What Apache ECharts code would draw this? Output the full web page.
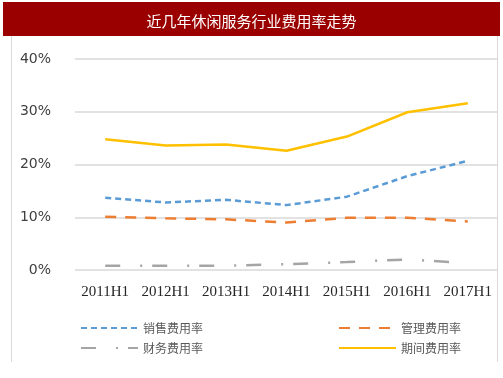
<!DOCTYPE html>
<html>
<head>
<meta charset="utf-8">
<script src="https://cdn.jsdelivr.net/npm/echarts@6/dist/echarts.min.js"></script>
<style>
  html, body { margin: 0; padding: 0; background: #fff; }
  #main { width: 503px; height: 378px; }
</style>
</head>
<body>
<div id="main"></div>
<script>
  // 数据
  const categories = ['2011H1', '2012H1', '2013H1', '2014H1', '2015H1', '2016H1', '2017H1']
  const salesRate = [13.7, 12.8, 13.3, 12.3, 13.9, 17.8, 20.7]
  const adminRate = [10.1, 9.8, 9.6, 9.0, 9.9, 9.9, 9.2]
  const financeRate = [0.8, 0.8, 0.8, 1.1, 1.5, 2.0, 1.3]
  const periodRate = [24.8, 23.6, 23.8, 22.6, 25.3, 29.9, 31.6]

  const legendFont = {fontSize: 12, color: '#595959', fontFamily: 'Noto Sans CJK SC'}

  const option = {
    animation: false,
    title: {
      text: '近几年休闲服务行业费用率走势',
      left: 'center',
      top: 9,
      textStyle: {color: '#fff', fontSize: 15, fontWeight: 'normal', fontFamily: 'Noto Sans CJK SC'}
    },
    graphic: [
      {type: 'rect', z: -1, shape: {x: 3, y: 2, width: 497, height: 34}, style: {fill: '#9b0000'}},
      {type: 'line', shape: {x1: 11.5, y1: 36, x2: 11.5, y2: 362}, style: {stroke: '#d9d9d9', lineWidth: 1}},
      {type: 'line', shape: {x1: 497.5, y1: 36, x2: 497.5, y2: 362}, style: {stroke: '#d9d9d9', lineWidth: 1}}
    ],
    legend: [
      {
        left: 75, top: 317, orient: 'vertical', itemGap: 8,
        itemWidth: 57, itemHeight: 14,
        itemStyle: {opacity: 0},
        textStyle: legendFont,
        data: ['销售费用率', '财务费用率']
      },
      {
        left: 333, top: 317, orient: 'vertical', itemGap: 8,
        itemWidth: 57, itemHeight: 14,
        itemStyle: {opacity: 0},
        textStyle: legendFont,
        data: ['管理费用率', '期间费用率']
      }
    ],
    grid: {left: 75, right: 5, top: 59, bottom: 108, containLabel: false},
    xAxis: {
      type: 'category',
      data: categories,
      boundaryGap: true,
      axisLine: {show: false},
      axisTick: {show: false},
      axisLabel: {
        margin: 15, fontSize: 15, color: '#262626',
        fontFamily: 'Liberation Serif', interval: 0
      }
    },
    yAxis: {
      type: 'value',
      min: 0, max: 40, interval: 10,
      axisLine: {show: false},
      axisTick: {show: false},
      axisLabel: {
        formatter: '{value}%', margin: 24, fontSize: 14,
        color: '#404040', fontFamily: 'DejaVu Sans'
      },
      splitLine: {lineStyle: {color: '#d9d9d9', width: 1.5}}
    },
    series: [
      {
        name: '销售费用率', type: 'line', data: salesRate, symbol: 'none',
        itemStyle: {color: '#5b9bd5'},
        lineStyle: {color: '#5b9bd5', width: 2.5, type: [6, 4]}
      },
      {
        name: '管理费用率', type: 'line', data: adminRate, symbol: 'none',
        itemStyle: {color: '#ed7d31'},
        lineStyle: {color: '#ed7d31', width: 2.5, type: [11, 9]}
      },
      {
        name: '财务费用率', type: 'line', data: financeRate, symbol: 'none',
        itemStyle: {color: '#a5a5a5'},
        lineStyle: {color: '#a5a5a5', width: 2.5, type: [15, 20, 2, 10]}
      },
      {
        name: '期间费用率', type: 'line', data: periodRate, symbol: 'none',
        itemStyle: {color: '#ffc000'},
        lineStyle: {color: '#ffc000', width: 2.5}
      }
    ]
  }

  const myChart = echarts.init(document.getElementById('main'))
  myChart.setOption(option)
</script>
</body>
</html>
